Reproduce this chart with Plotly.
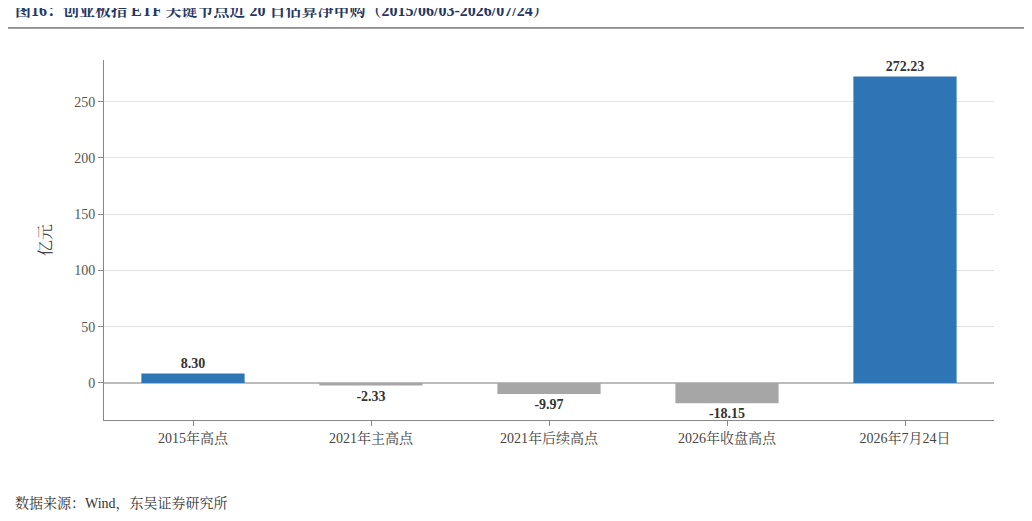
import plotly.graph_objects as go

categories = ["2015年高点", "2021年主高点", "2021年后续高点", "2026年收盘高点", "2026年7月24日"]
values = [8.30, -2.33, -9.97, -18.15, 272.23]
bar_colors = ["#2E75B6", "#A6A6A6", "#A6A6A6", "#A6A6A6", "#2E75B6"]

FONT = "Liberation Serif, Noto Serif CJK SC, Noto Sans CJK SC, serif"

fig = go.Figure()
fig.add_trace(go.Bar(
    x=categories, y=values, marker=dict(color=bar_colors, line=dict(width=0)),
    width=0.58,
    text=[f"<b>{v:.2f}</b>" for v in values],
    textposition="outside", cliponaxis=False,
    textfont=dict(size=14, color="#333333", family=FONT),
))

fig.update_layout(
    width=1032, height=521,
    margin=dict(l=96, r=46, t=52, b=109),
    plot_bgcolor="white", paper_bgcolor="white",
    font=dict(family=FONT, size=14, color="#555555"),
    showlegend=False,
    xaxis=dict(showline=True, linecolor="#888888", ticks="outside", ticklen=5,
               tickcolor="#888888", tickfont=dict(size=14, color="#444444")),
    yaxis=dict(range=[-33, 287], tickvals=[0, 50, 100, 150, 200, 250],
               showgrid=True, gridcolor="#E3E3E3", zeroline=True, zerolinecolor="#BBBBBB",
               showline=True, linecolor="#888888", ticks="outside", ticklen=5,
               tickcolor="#888888", tickfont=dict(size=14, color="#555555"),
               title=dict(text="亿元", font=dict(size=16, color="#444444"), standoff=18)),
    shapes=[dict(type="line", xref="paper", yref="paper", x0=-0.108, x1=1.047,
                 y0=1.089, y1=1.089, line=dict(color="#333333", width=1))],
    annotations=[
        dict(text="<b>图16：创业板指 ETF 关键节点近 20 日估算净申购（2015/06/03-2026/07/24）</b>",
             xref="paper", yref="paper", x=-0.102, y=1.14, xanchor="left", yanchor="middle",
             showarrow=False, font=dict(size=16, color="#1F3864", family=FONT)),
        dict(text="数据来源：Wind，东吴证券研究所", xref="paper", yref="paper",
             x=-0.102, y=-0.232, xanchor="left", yanchor="middle", showarrow=False,
             font=dict(size=14, color="#333333", family=FONT)),
    ],
)

fig.write_html("out.html")
